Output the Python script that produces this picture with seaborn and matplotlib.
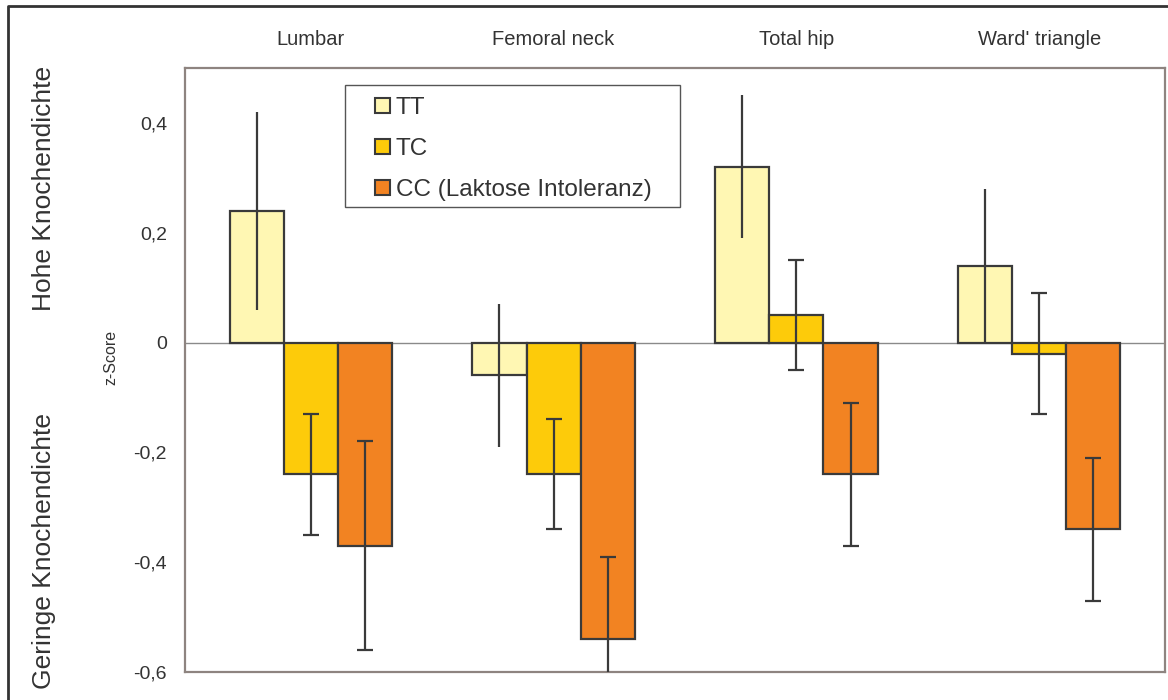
import pandas as pd
import seaborn as sns
import matplotlib.pyplot as plt
from matplotlib.patches import Patch
from matplotlib.lines import Line2D

# Data
regions = ['Lumbar', 'Femoral neck', 'Total hip', "Ward' triangle"]
genotypes = ['TT', 'TC', 'CC']
legend_labels = ['TT', 'TC', 'CC (Laktose Intoleranz)']
tt_mean = [0.24, -0.06, 0.32, 0.14]
tt_err = [0.18, 0.13, 0.13, 0.14]
tc_mean = [-0.24, -0.24, 0.05, -0.02]
tc_err = [0.11, 0.10, 0.10, 0.11]
cc_mean = [-0.37, -0.54, -0.24, -0.34]
cc_err = [0.19, 0.15, 0.13, 0.13]
yticks = [-0.6, -0.4, -0.2, 0, 0.2, 0.4]
ytick_labels = ['-0,6', '-0,4', '-0,2', '0', '0,2', '0,4']

means = [tt_mean, tc_mean, cc_mean]
errs = [tt_err, tc_err, cc_err]
colors = ['#FFF7B3', '#FDCB0A', '#F28322']
edge = '#3a3a3a'
text_col = '#333333'

rows = []
for g, m, e in zip(genotypes, means, errs):
    for r, mv, ev in zip(regions, m, e):
        rows.append({'region': r, 'genotype': g, 'z': mv, 'err': ev})
df = pd.DataFrame(rows)

sns.set_style('white')
plt.rcParams['font.family'] = ['Liberation Sans', 'DejaVu Sans']

fig = plt.figure(figsize=(11.68, 7.0), dpi=100)
ax = fig.add_axes([185 / 1168, 28 / 700, 980 / 1168, 604 / 700])

sns.barplot(data=df, x='region', y='z', hue='genotype', order=regions,
            hue_order=genotypes, palette=dict(zip(genotypes, colors)),
            saturation=1, errorbar=None, width=0.67, edgecolor=edge,
            linewidth=1.6, legend=False, ax=ax, zorder=2)

# error bars on top of the bars (TT without caps)
bar_groups = list(ax.containers)
for i, cont in enumerate(bar_groups):
    xs = [b.get_x() + b.get_width() / 2 for b in cont.patches]
    ax.errorbar(xs, means[i], yerr=errs[i], fmt='none', ecolor=edge,
                elinewidth=1.6, capsize=0 if i == 0 else 5.5,
                capthick=1.6, zorder=3)

ax.axhline(0, color='#8a8a8a', lw=1, zorder=1)

ax.set_ylim(-0.6, 0.5)
ax.set_yticks(yticks)
ax.set_yticklabels(ytick_labels)
ax.xaxis.tick_top()
ax.tick_params(axis='x', length=0, pad=14, labelsize=14.5, colors=text_col)
ax.tick_params(axis='y', length=0, pad=13, labelsize=14, colors=text_col)
ax.set_xlabel('')
ax.set_ylabel('z-Score', fontsize=11.5, color=text_col)
ax.yaxis.set_label_coords(-0.068, 0.52)

for s in ax.spines.values():
    s.set_visible(True)
    s.set_color('#8E8480')
    s.set_linewidth(1.6)

# legend
handles = [Patch(facecolor=c, edgecolor=edge, lw=1.5) for c in colors]
ax.legend(handles, legend_labels, loc='upper left',
          bbox_to_anchor=(0.194, 0.952), frameon=False, fontsize=17.5,
          handlelength=0.6, handleheight=0.6, handletextpad=0.25,
          labelspacing=0.78, borderpad=0, borderaxespad=0,
          labelcolor=text_col)
ax.add_patch(plt.Rectangle((0.163, 0.770), 0.342, 0.202, transform=ax.transAxes,
                           fill=False, ec='#555555', lw=1, zorder=4))

# side labels
fig.text(44 / 1168, 1 - 188 / 700, 'Hohe Knochendichte', rotation=90,
         ha='center', va='center', fontsize=19, color=text_col)
fig.text(44 / 1168, 1 - 551 / 700, 'Geringe Knochendichte', rotation=90,
         ha='center', va='center', fontsize=19, color=text_col)

# outer frame (left and top edges)
fig.add_artist(Line2D([8 / 1168, 8 / 1168, 1], [0, 1 - 6 / 700, 1 - 6 / 700],
                      color='#333333', lw=2))

fig.savefig('out.png', dpi=100)
